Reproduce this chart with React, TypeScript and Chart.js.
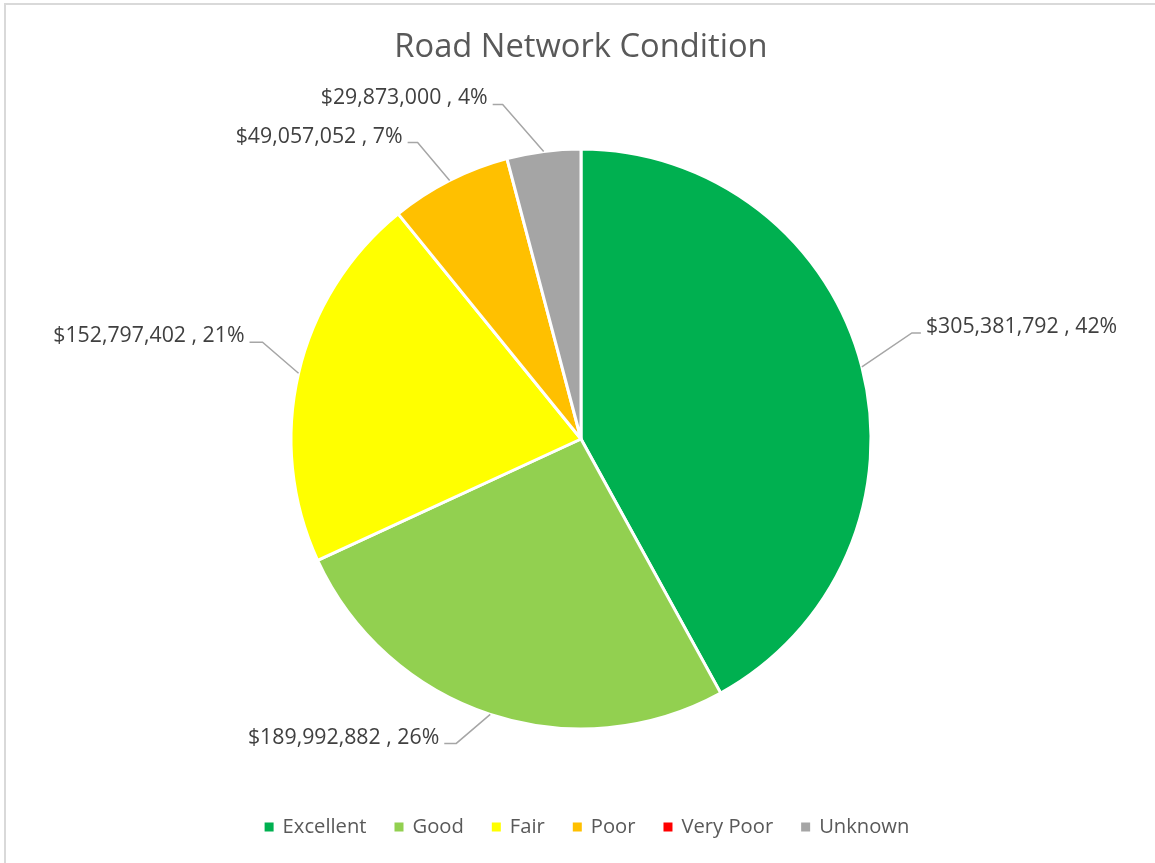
import React, { useEffect, useRef } from "react";
import { Chart, registerables } from "chart.js";

Chart.register(...registerables);

const chartTitle = "Road Network Condition";
const categories = ["Excellent", "Good", "Fair", "Poor", "Very Poor", "Unknown"];
const values = [305381792, 189992882, 152797402, 49057052, 0, 29873000];
const colors = ["#00B050", "#92D050", "#FFFF00", "#FFC000", "#FF0000", "#A5A5A5"];

// leader line geometry (elbow offset from the slice's outer mid point, then a horizontal run)
const leaderLayout: ({ dx: number; dy: number; run: number } | null)[] = [
  { dx: 50, dy: -34, run: 9 },
  { dx: -34, dy: 29, run: -12 },
  { dx: -36, dy: -31, run: -13 },
  { dx: -32, dy: -38, run: -10 },
  null,
  { dx: -41, dy: -47, run: -10 },
];

const FONT = "'Open Sans', 'Liberation Sans', sans-serif";

const decorPlugin = {
  id: "decor",
  afterDraw(chart: any) {
    const ctx = chart.ctx as CanvasRenderingContext2D;
    ctx.save();
    // chart area border
    ctx.strokeStyle = "#d9d9d9";
    ctx.lineWidth = 2;
    ctx.strokeRect(5, 4, 1300, 1000);

    // title
    ctx.fillStyle = "#595959";
    ctx.font = `32.7px ${FONT}`;
    ctx.textAlign = "center";
    ctx.textBaseline = "middle";
    ctx.fillText(chartTitle, 581, 48);

    // data labels
    const meta = chart.getDatasetMeta(0);
    const data = chart.data.datasets[0].data as number[];
    const total = data.reduce((a, b) => a + b, 0);
    ctx.font = `21.3px ${FONT}`;
    meta.data.forEach((arc: any, i: number) => {
      const lay = leaderLayout[i];
      if (!lay || !data[i]) return;
      const p = arc.getProps(["x", "y", "startAngle", "endAngle", "outerRadius"], true);
      const mid = (p.startAngle + p.endAngle) / 2;
      const ax = p.x + Math.cos(mid) * p.outerRadius;
      const ay = p.y + Math.sin(mid) * p.outerRadius;
      const ex = ax + lay.dx;
      const ey = ay + lay.dy;
      const hx = ex + lay.run;
      ctx.strokeStyle = "#a6a6a6";
      ctx.lineWidth = 1.5;
      ctx.beginPath();
      ctx.moveTo(ax, ay);
      ctx.lineTo(ex, ey);
      ctx.lineTo(hx, ey);
      ctx.stroke();
      const pct = Math.round((data[i] / total) * 100);
      const txt = `$${data[i].toLocaleString("en-US")} , ${pct}%`;
      ctx.fillStyle = "#404040";
      ctx.textBaseline = "middle";
      if (lay.run > 0) {
        ctx.textAlign = "left";
        ctx.fillText(txt, hx + 5, ey - 6);
      } else {
        ctx.textAlign = "right";
        ctx.fillText(txt, hx - 5, ey - 6);
      }
    });

    // legend
    ctx.font = `20.2px ${FONT}`;
    const box = 9;
    const gapText = 9;
    const gapItem = 28;
    const labels = chart.data.labels as string[];
    const bg = chart.data.datasets[0].backgroundColor as string[];
    const widths = labels.map((l) => ctx.measureText(l).width);
    const totalW = widths.reduce((a, w) => a + box + gapText + w, 0) + gapItem * (labels.length - 1);
    let x = 587 - totalW / 2;
    const ly = 827;
    ctx.textAlign = "left";
    ctx.textBaseline = "middle";
    labels.forEach((l, i) => {
      ctx.fillStyle = bg[i];
      ctx.fillRect(x, ly - box / 2, box, box);
      x += box + gapText;
      ctx.fillStyle = "#595959";
      ctx.fillText(l, x, ly);
      x += widths[i] + gapItem;
    });
    ctx.restore();
  },
};

export default function App() {
  const ref = useRef<HTMLCanvasElement>(null);
  useEffect(() => {
    document.body.style.margin = "0";
    const chart = new Chart(ref.current!, {
      type: "pie",
      data: {
        labels: categories,
        datasets: [
          {
            data: values,
            backgroundColor: colors,
            borderColor: "#ffffff",
            borderWidth: 3,
            hoverOffset: 0,
          },
        ],
      },
      options: {
        animation: false,
        responsive: false,
        radius: 290,
        layout: { padding: { top: 149, bottom: 134, left: 200, right: 193 } },
        plugins: {
          legend: { display: false },
          title: { display: false },
          tooltip: { enabled: false },
        },
      } as any,
      plugins: [decorPlugin],
    });
    return () => chart.destroy();
  }, []);
  return (
    <div style={{ width: 1155, height: 863, background: "#fff" }}>
      <canvas ref={ref} width={1155} height={863} style={{ display: "block" }} />
    </div>
  );
}
